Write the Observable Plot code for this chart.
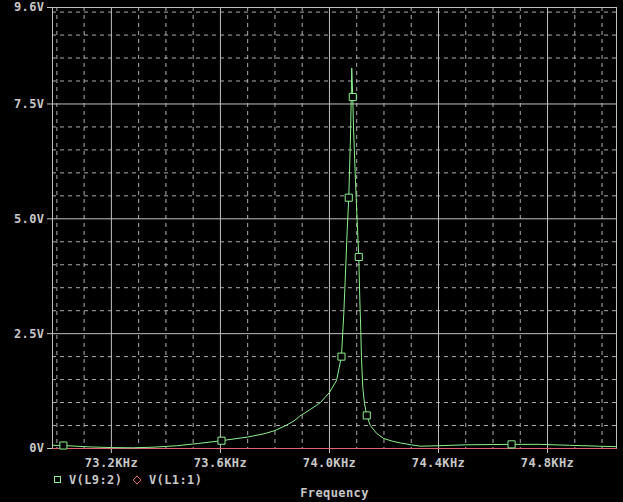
<!DOCTYPE html>
<html><head><meta charset="utf-8">
<script src="https://cdn.jsdelivr.net/npm/d3@7"></script>
<script src="https://cdn.jsdelivr.net/npm/@observablehq/plot@0.6"></script>
<style>
html,body{margin:0;padding:0;background:#000;overflow:hidden;}
#chart svg{display:block;}
</style></head><body><div id="chart"></div>
<script>
// Trace V(L9:2): frequency (KHz) and voltage (V)
const freq = [72.984, 73.024, 73.07, 73.12, 73.20, 73.28, 73.36, 73.44, 73.52, 73.604,
  73.70, 73.76, 73.80, 73.84, 73.87, 73.89, 73.93, 73.967, 74.00, 74.026, 74.044,
  74.0525, 74.0587, 74.065, 74.0708, 74.0771, 74.0818, 74.0855, 74.0881, 74.0954,
  74.1016, 74.1075, 74.1112, 74.1149, 74.1174, 74.1222, 74.1284, 74.1369,
  74.150, 74.173, 74.198, 74.23, 74.261, 74.30, 74.334, 74.40, 74.50, 74.668,
  74.77, 74.88, 74.99, 75.053];
const volts = [0.07, 0.065, 0.05, 0.035, 0.02, 0.015, 0.03, 0.06, 0.11, 0.17,
  0.25, 0.32, 0.39, 0.5, 0.6, 0.7, 0.85, 1.0, 1.22, 1.48, 2.0,
  2.93, 3.8, 4.74, 5.46, 6.76, 8.28, 7.65, 7.0, 5.83,
  4.96, 4.17, 3.28, 2.57, 1.98, 1.33, 0.98, 0.72,
  0.5, 0.33, 0.22, 0.16, 0.12, 0.08, 0.05, 0.06, 0.08, 0.09,
  0.09, 0.07, 0.05, 0.04];
// Marker points on V(L9:2)
const markerFreq = [73.024, 73.604, 74.044, 74.0708, 74.0855, 74.1075, 74.1369, 74.668];
const markerVolt = [0.065, 0.17, 2.0, 5.46, 7.65, 4.17, 0.72, 0.09];
// Trace V(L1:1)
const refFreq = [72.984, 75.053];
const refVolt = [0, 0];
// Axes
const yTicks = [0, 2.5, 5, 7.5, 9.6];
const yTickLabels = ["0V", "2.5V", "5.0V", "7.5V", "9.6V"];
const xTicks = [73.2, 73.6, 74.0, 74.4, 74.8];
const xTickLabels = ["73.2KHz", "73.6KHz", "74.0KHz", "74.4KHz", "74.8KHz"];
const yMinor = [0.5, 1, 1.5, 2, 3, 3.5, 4, 4.5, 5.5, 6, 6.5, 7, 8, 8.5, 9, 9.5];
const xMinor = [73.0, 73.1, 73.3, 73.4, 73.5, 73.7, 73.8, 73.9, 74.1, 74.2, 74.3, 74.5, 74.6, 74.7, 74.9, 75.0];
const seriesNames = ["V(L9:2)", "V(L1:1)"];

const GRID = "#c0c0c0", GREEN = "#8ef08e", RED = "#e06464", TEXT = "#c8c8c8";
const FONT = "'DejaVu Sans Mono', 'Liberation Mono', monospace";

const curve = freq.map((f, i) => ({f, v: volts[i]}));
const markers = markerFreq.map((f, i) => ({f, v: markerVolt[i]}));
const ref = refFreq.map((f, i) => ({f, v: refVolt[i]}));

const chart = Plot.plot({
  width: 623, height: 502,
  marginLeft: 52, marginRight: 7, marginTop: 7, marginBottom: 54,
  style: {background: "#000", color: TEXT, fontFamily: FONT, fontSize: "12px", fontWeight: "bold", letterSpacing: "0.4px"},
  x: {domain: [72.984, 75.053], ticks: xTicks, tickFormat: d => xTickLabels[xTicks.indexOf(d)],
      tickSize: 5, tickPadding: 5, label: "Frequency", labelAnchor: "center", labelArrow: "none", labelOffset: 48},
  y: {domain: [0, 9.6], ticks: yTicks, tickFormat: d => yTickLabels[yTicks.indexOf(d)],
      tickSize: 5, tickPadding: 3, label: null},
  marks: [
    Plot.ruleY(yMinor, {stroke: GRID, strokeDasharray: "4,4", strokeOpacity: 0.9}),
    Plot.ruleX(xMinor, {stroke: GRID, strokeDasharray: "4,4", strokeOpacity: 0.9}),
    Plot.ruleY(yTicks, {stroke: GRID}),
    Plot.ruleX(xTicks, {stroke: GRID}),
    Plot.frame({stroke: GRID}),
    Plot.line(ref, {x: "f", y: "v", stroke: RED, strokeWidth: 1}),
    Plot.line(curve, {x: "f", y: "v", stroke: GREEN, strokeWidth: 1}),
    Plot.dot(markers, {x: "f", y: "v", symbol: "square", r: 4, stroke: GREEN, fill: "#000", strokeWidth: 1})
  ]
});
document.getElementById("chart").appendChild(chart);

// Legend
const svg = d3.select(chart);
const lg = svg.append("g").attr("font-family", FONT).attr("font-size", 12).attr("font-weight", "bold")
  .attr("letter-spacing", "0.4px").attr("fill", TEXT).attr("text-anchor", "start");
lg.append("rect").attr("x", 54.5).attr("y", 476.5).attr("width", 6).attr("height", 6)
  .attr("fill", "none").attr("stroke", GREEN);
lg.append("text").attr("x", 69).attr("y", 484).attr("text-anchor", "start").text(seriesNames[0]);
lg.append("path").attr("d", "M137,476 L141,480 L137,484 L133,480 Z")
  .attr("fill", "none").attr("stroke", RED);
lg.append("text").attr("x", 149).attr("y", 484).attr("text-anchor", "start").text(seriesNames[1]);
</script>
</body></html>
